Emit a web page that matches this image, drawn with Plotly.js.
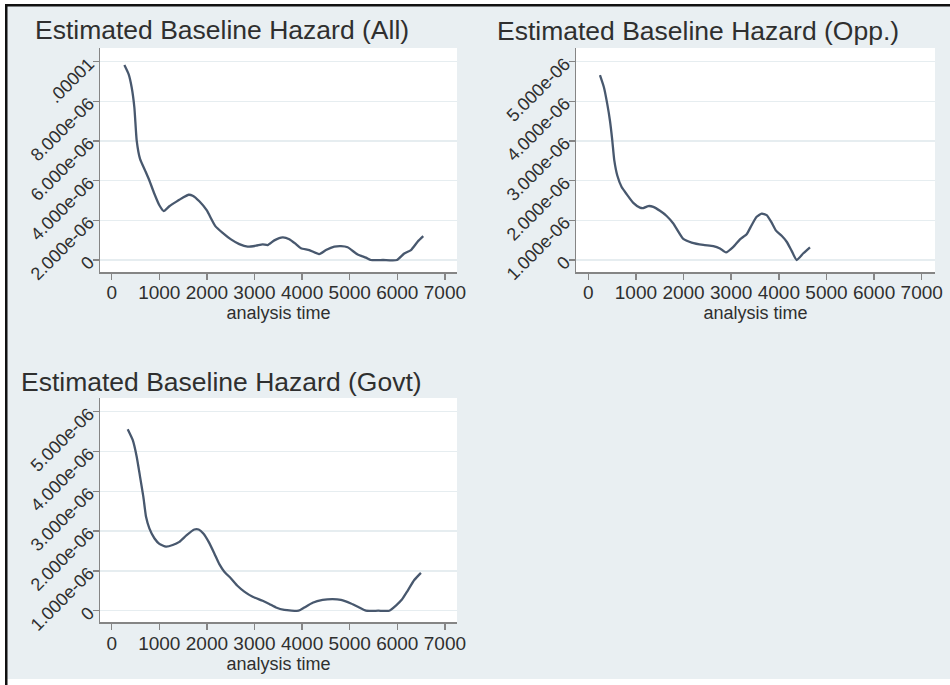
<!DOCTYPE html>
<html>
<head>
<meta charset="utf-8">
<script src="https://cdn.plot.ly/plotly-3.0.1.min.js"></script>
<style>html,body{margin:0;padding:0;background:#fff;}#chart{width:950px;height:685px;}</style>
</head>
<body>
<div id="chart"></div>
<script>
// ---- Data ----
const panelTitles = ["Estimated Baseline Hazard (All)", "Estimated Baseline Hazard (Opp.)", "Estimated Baseline Hazard (Govt)"];
const xTickVals = [0, 1000, 2000, 3000, 4000, 5000, 6000, 7000];
const xTickText = ["0", "1000", "2000", "3000", "4000", "5000", "6000", "7000"];
const xAxisTitle = "analysis time";

const allTickVals = [0, 2e-6, 4e-6, 6e-6, 8e-6, 1e-5];
const allTickText = ["0", "2.000e-06", "4.000e-06", "6.000e-06", "8.000e-06", ".00001"];
const oppTickVals = [0, 1e-6, 2e-6, 3e-6, 4e-6, 5e-6];
const oppTickText = ["0", "1.000e-06", "2.000e-06", "3.000e-06", "4.000e-06", "5.000e-06"];
const govTickVals = [0, 1e-6, 2e-6, 3e-6, 4e-6, 5e-6];
const govTickText = ["0", "1.000e-06", "2.000e-06", "3.000e-06", "4.000e-06", "5.000e-06"];

const allTime = [266, 357, 420, 476, 525, 595, 700, 791, 896, 1001, 1092, 1211, 1351, 1491, 1617, 1701, 1841, 1995, 2177, 2331, 2506, 2681, 2856, 3031, 3171, 3276, 3416, 3591, 3731, 3871, 3976, 4151, 4361, 4501, 4676, 4816, 4956, 5166, 5341, 5446, 5700, 5992, 6146, 6286, 6426, 6545];
const allHazard = [9.83e-6, 9.36e-6, 8.70e-6, 7.69e-6, 6.02e-6, 5.10e-6, 4.52e-6, 4.01e-6, 3.34e-6, 2.76e-6, 2.47e-6, 2.71e-6, 2.93e-6, 3.14e-6, 3.29e-6, 3.24e-6, 2.96e-6, 2.51e-6, 1.71e-6, 1.37e-6, 1.04e-6, 0.80e-6, 0.67e-6, 0.72e-6, 0.79e-6, 0.75e-6, 0.99e-6, 1.14e-6, 1.05e-6, 0.80e-6, 0.59e-6, 0.50e-6, 0.30e-6, 0.50e-6, 0.67e-6, 0.70e-6, 0.64e-6, 0.28e-6, 0.12e-6, 0.0, 0.0, 0.0, 0.33e-6, 0.50e-6, 0.92e-6, 1.20e-6];

const oppTime = [245, 329, 399, 455, 504, 546, 609, 700, 805, 945, 1085, 1155, 1260, 1365, 1505, 1645, 1785, 1995, 2170, 2415, 2625, 2765, 2891, 3045, 3185, 3325, 3430, 3535, 3640, 3745, 3850, 3941, 4060, 4165, 4270, 4375, 4515, 4655];
const oppHazard = [4.66e-6, 4.35e-6, 3.93e-6, 3.51e-6, 3.01e-6, 2.51e-6, 2.13e-6, 1.84e-6, 1.66e-6, 1.44e-6, 1.32e-6, 1.31e-6, 1.36e-6, 1.34e-6, 1.24e-6, 1.11e-6, 0.92e-6, 0.53e-6, 0.44e-6, 0.38e-6, 0.35e-6, 0.29e-6, 0.19e-6, 0.33e-6, 0.52e-6, 0.65e-6, 0.88e-6, 1.09e-6, 1.17e-6, 1.13e-6, 0.94e-6, 0.74e-6, 0.61e-6, 0.46e-6, 0.23e-6, 0.0, 0.17e-6, 0.32e-6];

const govTime = [336, 441, 525, 595, 665, 721, 791, 896, 1001, 1141, 1281, 1421, 1575, 1736, 1827, 1925, 2037, 2156, 2261, 2366, 2506, 2646, 2786, 2961, 3171, 3311, 3451, 3626, 3927, 4046, 4221, 4431, 4641, 4816, 5026, 5201, 5341, 5600, 5831, 5971, 6097, 6216, 6356, 6496];
const govHazard = [4.56e-6, 4.29e-6, 3.87e-6, 3.37e-6, 2.86e-6, 2.36e-6, 2.07e-6, 1.82e-6, 1.68e-6, 1.61e-6, 1.65e-6, 1.73e-6, 1.90e-6, 2.04e-6, 2.04e-6, 1.94e-6, 1.73e-6, 1.44e-6, 1.17e-6, 0.98e-6, 0.81e-6, 0.62e-6, 0.48e-6, 0.35e-6, 0.25e-6, 0.17e-6, 0.08e-6, 0.02e-6, 0.0, 0.08e-6, 0.20e-6, 0.27e-6, 0.29e-6, 0.27e-6, 0.18e-6, 0.08e-6, 0.0, 0.0, 0.0, 0.13e-6, 0.28e-6, 0.50e-6, 0.77e-6, 0.95e-6];

// ---- Styling ----
const W = 950, H = 685;
const FONT = "Liberation Sans, Arial, Helvetica, sans-serif";
const TEXT = "#2f2f2f";
const LINE = "#48586e";
const GRID = "#e6edf0";
const AXIS = "#858585";
const BG = "#e9eff2";

function px(x) { return x / W; }
function py(y) { return 1 - y / H; }

function xAxis(domain, range, anchor) {
  return {
    domain: domain, range: range, anchor: anchor,
    tickmode: "array", tickvals: xTickVals, ticktext: xTickText,
    ticks: "outside", ticklen: 6, tickwidth: 1.5, tickcolor: AXIS,
    ticklabelstandoff: -3,
    showline: true, linecolor: AXIS, linewidth: 1.5,
    showgrid: false, zeroline: false,
    tickfont: {family: FONT, size: 19, color: TEXT},
    title: {text: xAxisTitle, font: {family: FONT, size: 18, color: TEXT}, standoff: 0},
    fixedrange: true
  };
}
function yAxis(domain, range, anchor, vals, text) {
  return {
    domain: domain, range: range, anchor: anchor,
    tickmode: "array", tickvals: vals, ticktext: text, tickangle: -45,
    ticks: "outside", ticklen: 6, tickwidth: 1.5, tickcolor: AXIS,
    showline: true, linecolor: AXIS, linewidth: 1.5,
    showgrid: true, gridcolor: GRID, gridwidth: 1.5, zeroline: false,
    tickfont: {family: FONT, size: 18, color: TEXT},
    fixedrange: true
  };
}

const lineStyle = {color: LINE, width: 2.3, shape: "spline", smoothing: 0.5};
const traces = [
  {x: allTime, y: allHazard, xaxis: "x", yaxis: "y", mode: "lines", line: lineStyle, hoverinfo: "skip"},
  {x: oppTime, y: oppHazard, xaxis: "x2", yaxis: "y2", mode: "lines", line: lineStyle, hoverinfo: "skip"},
  {x: govTime, y: govHazard, xaxis: "x3", yaxis: "y3", mode: "lines", line: lineStyle, hoverinfo: "skip"}
];

const topDom = [py(272), py(48)];
const botDom = [py(622.3), py(398)];
const leftDom = [px(100), px(457)];
const rightDom = [px(576), px(935)];

const TITLE_SIZE = 26.5;
const layout = {
  width: W, height: H,
  margin: {l: 0, r: 0, t: 0, b: 0, pad: 0},
  paper_bgcolor: BG, plot_bgcolor: "#ffffff",
  showlegend: false,
  font: {family: FONT, color: TEXT},
  xaxis: xAxis(leftDom, [-246, 7254], "y"),
  yaxis: yAxis(topDom, [-0.605e-6, 1.069e-5], "x", allTickVals, allTickText),
  xaxis2: xAxis(rightDom, [-258, 7279], "y2"),
  yaxis2: yAxis(topDom, [-0.3026e-6, 5.345e-6], "x2", oppTickVals, oppTickText),
  xaxis3: xAxis(leftDom, [-246, 7254], "y3"),
  yaxis3: yAxis(botDom, [-0.291e-6, 5.344e-6], "x3", govTickVals, govTickText),
  annotations: [
    {text: panelTitles[0], xref: "paper", yref: "paper", x: px(221.7), y: py(30), xanchor: "center", yanchor: "middle", showarrow: false, font: {family: FONT, size: TITLE_SIZE, color: TEXT}},
    {text: panelTitles[1], xref: "paper", yref: "paper", x: px(698.3), y: py(31), xanchor: "center", yanchor: "middle", showarrow: false, font: {family: FONT, size: TITLE_SIZE, color: TEXT}},
    {text: panelTitles[2], xref: "paper", yref: "paper", x: px(221.7), y: py(381.7), xanchor: "center", yanchor: "middle", showarrow: false, font: {family: FONT, size: TITLE_SIZE, color: TEXT}}
  ],
  shapes: [
    {type: "rect", xref: "paper", yref: "paper", x0: 0, x1: px(5), y0: 0, y1: 1, fillcolor: "#ffffff", line: {width: 0}},
    {type: "rect", xref: "paper", yref: "paper", x0: 0, x1: 1, y0: py(4), y1: 1, fillcolor: "#ffffff", line: {width: 0}},
    {type: "rect", xref: "paper", yref: "paper", x0: 0, x1: 1, y0: 0, y1: py(679), fillcolor: "#ffffff", line: {width: 0}},
    {type: "rect", xref: "paper", yref: "paper", x0: px(5), x1: px(7.5), y0: 0, y1: py(4), fillcolor: "#111111", line: {width: 0}},
    {type: "rect", xref: "paper", yref: "paper", x0: px(5), x1: 1, y0: py(6.5), y1: py(4), fillcolor: "#111111", line: {width: 0}}
  ]
};

Plotly.newPlot("chart", traces, layout, {displayModeBar: false, staticPlot: true});
</script>
</body>
</html>
